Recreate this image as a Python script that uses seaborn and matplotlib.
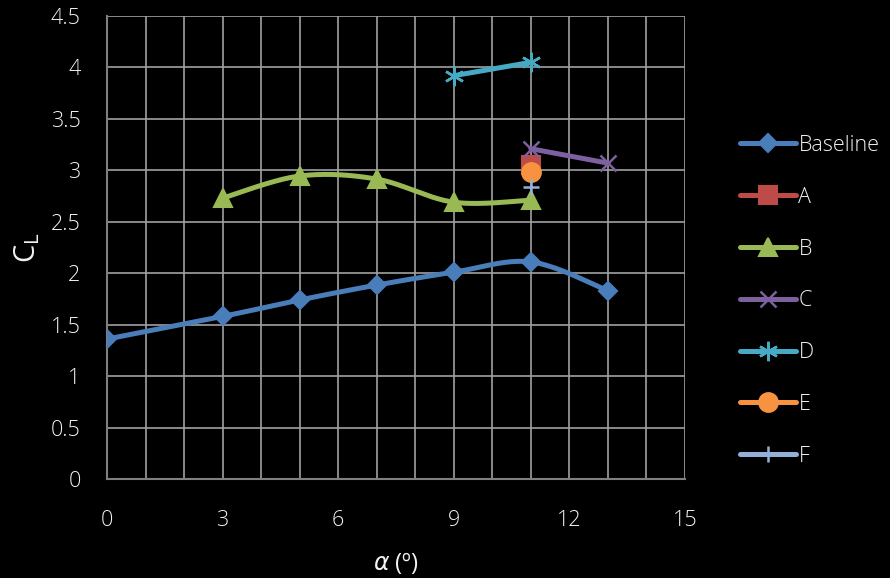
import numpy as np
import matplotlib
matplotlib.use("Agg")
import matplotlib.pyplot as plt
from matplotlib.lines import Line2D
import seaborn as sns

# angle of attack (deg) and lift coefficient for each configuration
baseline_alpha = [0, 3, 5, 7, 9, 11, 13]
baseline_cl = [1.36, 1.58, 1.74, 1.885, 2.01, 2.11, 1.83]

a_alpha = [11]
a_cl = [3.05]

b_alpha = [3, 5, 7, 9, 11]
b_cl = [2.73, 2.945, 2.915, 2.69, 2.71]

c_alpha = [11, 13]
c_cl = [3.21, 3.07]

d_alpha = [9, 11]
d_cl = [3.92, 4.05]

e_alpha = [11]
e_cl = [2.98]

f_alpha = [11]
f_cl = [2.84]

labels = ["Baseline", "A", "B", "C", "D", "E", "F"]
x_ticks = [0, 3, 6, 9, 12, 15]
y_ticks = [0, 0.5, 1, 1.5, 2, 2.5, 3, 3.5, 4, 4.5]

series = [
    (baseline_alpha, baseline_cl, "#4A7EBB", "D", 9.5, 1.5),
    (a_alpha, a_cl, "#BE4B48", "s", 13, 1.5),
    (b_alpha, b_cl, "#98B954", "^", 13, 1.5),
    (c_alpha, c_cl, "#7D60A0", "x", 12, 1.8),
    (d_alpha, d_cl, "#46AAC5", (6, 2, 0), 14, 1.8),
    (e_alpha, e_cl, "#F69240", "o", 13.5, 1.5),
    (f_alpha, f_cl, "#93B1D8", "+", 12, 1.8),
]


def smooth_curve(xs, ys, n=40):
    # Excel-style smoothed line: cubic Bezier with Catmull-Rom control points
    p = np.column_stack([xs, ys]).astype(float)
    if len(p) < 3:
        return p[:, 0], p[:, 1]
    out = []
    for i in range(len(p) - 1):
        p0 = p[i - 1] if i > 0 else p[i]
        p1, p2 = p[i], p[i + 1]
        p3 = p[i + 2] if i + 2 < len(p) else p[i + 1]
        c1 = p1 + (p2 - p0) / 6
        c2 = p2 - (p3 - p1) / 6
        t = np.linspace(0, 1, n)[:, None]
        seg = ((1 - t) ** 3) * p1 + 3 * ((1 - t) ** 2) * t * c1 + 3 * (1 - t) * t ** 2 * c2 + t ** 3 * p2
        out.append(seg if i == 0 else seg[1:])
    out = np.vstack(out)
    return out[:, 0], out[:, 1]


sns.set_theme(style="dark")
plt.rcParams["font.family"] = ["Open Sans", "DejaVu Sans"]
plt.rcParams["font.weight"] = "light"
plt.rcParams["mathtext.fontset"] = "dejavusans"

fig = plt.figure(figsize=(8.9, 5.78), dpi=100, facecolor="black")
ax = fig.add_axes([0.1202, 0.1713, 0.6495, 0.801])
ax.set_facecolor("black")

handles = []
for (xs, ys, color, marker, ms, mew), label in zip(series, labels):
    sx, sy = smooth_curve(xs, ys)
    if len(xs) > 1:
        sns.lineplot(x=sx, y=sy, ax=ax, color=color, linewidth=3.6,
                     estimator=None, sort=False, solid_capstyle="round", zorder=3)
    ax.plot(xs, ys, linestyle="none", marker=marker, markersize=ms,
            color=color, markeredgecolor=color, markeredgewidth=mew, zorder=4)
    handles.append(Line2D([], [], color=color, linewidth=3.6, marker=marker,
                          markersize=ms, markeredgecolor=color,
                          markeredgewidth=mew, solid_capstyle="round"))

ax.set_xlim(0, 15)
ax.set_ylim(0, 4.5)
ax.set_xticks(x_ticks)
ax.set_xticks(range(0, 16), minor=True)
ax.set_yticks(y_ticks)
ax.set_yticklabels([f"{v:g}" for v in y_ticks])

ax.grid(True, which="both", axis="x", color="#A0A0A0", linewidth=1.2)
ax.grid(True, which="major", axis="y", color="#A0A0A0", linewidth=1.2)
ax.set_axisbelow(True)

for side in ["left", "bottom"]:
    ax.spines[side].set_color("#7F7F7F")
    ax.spines[side].set_linewidth(1.5)
    ax.spines[side].set_visible(True)
for side in ["top", "right"]:
    ax.spines[side].set_visible(False)

ax.tick_params(axis="both", which="major", direction="inout", length=10,
               width=1.5, color="#7F7F7F", labelcolor="#F2F2F2",
               labelsize=15.5)
ax.tick_params(axis="x", which="minor", direction="in", length=0)
ax.tick_params(axis="x", which="major", pad=17)
ax.tick_params(axis="y", which="major", pad=14)

ax.set_xlabel(r"$\alpha$ (º)", color="#F2F2F2", fontsize=17, labelpad=14)
ax.set_ylabel(r"$\mathregular{C_L}$", color="#F2F2F2", fontsize=21, labelpad=6)

leg = fig.legend(handles, labels, loc="upper left",
                 bbox_to_anchor=(0.81, 0.8), frameon=False,
                 fontsize=15.5, labelspacing=1.43, handlelength=2.6,
                 handletextpad=0.1)
for txt in leg.get_texts():
    txt.set_color("#F2F2F2")

fig.savefig("out.png", dpi=100, facecolor="black")
